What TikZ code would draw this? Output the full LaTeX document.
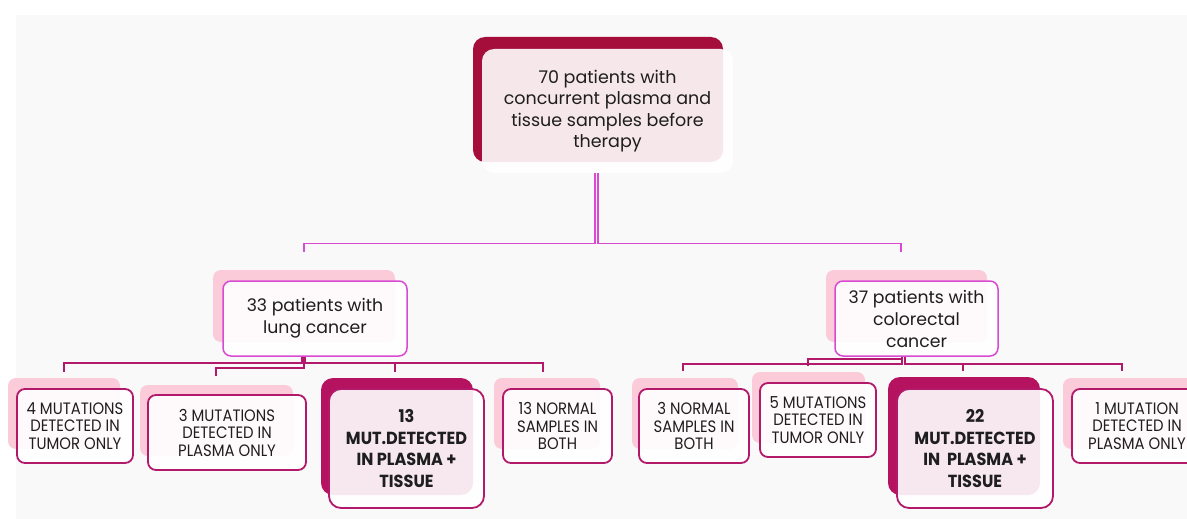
\documentclass[tikz,border=0pt]{standalone}
\usepackage{fontspec}
\setmainfont{Poppins}
\newfontfamily\capsfont[FakeStretch=0.9]{Poppins}
\newfontfamily\boldcapsfont[FakeStretch=0.92]{Poppins}
\usetikzlibrary{calc}
\definecolor{bggray}{HTML}{F9F9F9}
\definecolor{crimson}{HTML}{A50D3A}
\definecolor{berry}{HTML}{B5135F}
\definecolor{blush}{HTML}{FBCBD9}
\definecolor{orchid}{HTML}{D94AD2}
\definecolor{rosered}{HTML}{B3196B}
\definecolor{ink}{HTML}{1E1E1E}
\tikzset{
  front/.style={rounded corners=8pt, fill=white, fill opacity=0.9, text opacity=1,
    align=center, inner sep=0pt, text=ink},
  lvtwo/.style={front, draw=orchid, line width=1.5pt, font=\fontsize{17.3}{22}\selectfont},
  lvthree/.style={front, draw=rosered, line width=1.8pt, font=\capsfont\fontsize{16.5}{17.5}\selectfont},
  lvbold/.style={lvthree, font=\boldcapsfont\bfseries\fontsize{17.5}{21.5}\selectfont},
  conone/.style={draw=orchid, line width=1.4pt},
  conthree/.style={draw=rosered, line width=1.8pt},
}
\begin{document}
\begin{tikzpicture}[x=1pt,y=-1pt]
\useasboundingbox (0,0) rectangle (1187,519);
\clip (0,0) rectangle (1187,519);
\fill[bggray] (16,15) rectangle (1187,519);
% back plates
\fill[crimson, rounded corners=12pt] (473,37) rectangle (723,162);
\fill[blush, rounded corners=8pt] (213,270) rectangle (395,342);
\fill[blush, rounded corners=8pt] (826,270) rectangle (987,342);
\fill[blush, rounded corners=8pt] (8,378) rectangle (120,449);
\fill[blush, rounded corners=8pt] (140,385) rectangle (293,456);
\fill[berry, rounded corners=12pt] (321,378) rectangle (473,495);
\fill[blush, rounded corners=8pt] (494,378) rectangle (600,449);
\fill[blush, rounded corners=8pt] (632,378) rectangle (738,449);
\fill[blush, rounded corners=8pt] (752,372) rectangle (865,443);
\fill[berry, rounded corners=12pt] (888,377) rectangle (1040,495);
\fill[blush, rounded corners=8pt] (1063,378) rectangle (1195,449);
% front nodes
\node[front, rounded corners=12pt, minimum width=251pt, minimum height=124pt,
  font=\fontsize{17.5}{21.5}\selectfont] (top) at (607.5,111)
  {70 patients with\\concurrent plasma and\\tissue samples before\\therapy};
\node[lvtwo, minimum width=184pt, minimum height=75pt] (lung) at (315,318.5)
  {33 patients with\\lung cancer};
\node[lvtwo, minimum width=163pt, minimum height=75pt] (crc) at (916.5,318.5)
  {37 patients with\\colorectal\\cancer};
\node[lvthree, minimum width=116pt, minimum height=74pt] (a) at (75,426)
  {4 MUTATIONS\\DETECTED IN\\TUMOR ONLY};
\node[lvthree, minimum width=158pt, minimum height=75pt] (b) at (227,432.5)
  {3 MUTATIONS\\DETECTED IN\\PLASMA ONLY};
\node[lvbold, rounded corners=12pt, minimum width=155pt, minimum height=119pt] (c) at (406.5,448.5)
  {13\\MUT.DETECTED\\IN PLASMA +\\TISSUE};
\node[lvthree, minimum width=109pt, minimum height=74pt] (d) at (557.5,426)
  {13 NORMAL\\SAMPLES IN\\BOTH};
\node[lvthree, minimum width=110pt, minimum height=74pt] (e) at (694,426)
  {3 NORMAL\\SAMPLES IN\\BOTH};
\node[lvthree, minimum width=116pt, minimum height=74pt] (f) at (818,420)
  {5 MUTATIONS\\DETECTED IN\\TUMOR ONLY};
\node[lvbold, rounded corners=12pt, minimum width=156pt, minimum height=119pt] (g) at (975,448.5)
  {22\\MUT.DETECTED\\IN\ \ PLASMA +\\TISSUE};
\node[lvthree, minimum width=130pt, minimum height=74pt] (h) at (1137,426)
  {1 MUTATION\\DETECTED IN\\PLASMA ONLY};
% level one connectors
\draw[conone] ([xshift=-12.5pt]top.south) -- ++(0,70) -| ([xshift=-11pt,yshift=28pt]lung.north);
\draw[conone] ([xshift=-9.5pt]top.south) -- ++(0,70) -| ([xshift=-15.5pt,yshift=28pt]crc.north);
% lung connectors
\draw[conthree] ([xshift=-13pt]lung.south) -- ++(0,6) -| ([xshift=-11pt,yshift=16pt]a.north);
\draw[conthree] ([xshift=-11pt]lung.south) -- ++(0,11) -| ([xshift=-11pt,yshift=18pt]b.north);
\draw[conthree] ([xshift=-10pt]lung.south) -- ++(0,6) -| ([xshift=-11.5pt,yshift=16pt]c.north);
\draw[conthree] ([xshift=-10pt]lung.south) -- ++(0,6) -| ([xshift=-14.5pt,yshift=16pt]d.north);
% colorectal connectors
\draw[conthree] ([xshift=-14.5pt]crc.south) -- ++(0,7) -| ([xshift=-11pt,yshift=17pt]e.north);
\draw[conthree] ([xshift=-14.5pt]crc.south) -- ++(0,2) -| ([xshift=-10pt,yshift=16pt]f.north);
\draw[conthree] ([xshift=-11.5pt]crc.south) -- ++(0,7) -| ([xshift=-12pt,yshift=17pt]g.north);
\draw[conthree] ([xshift=-11.5pt]crc.south) -- ++(0,7) -| ([xshift=-15pt,yshift=17pt]h.north);
\end{tikzpicture}
\end{document}
